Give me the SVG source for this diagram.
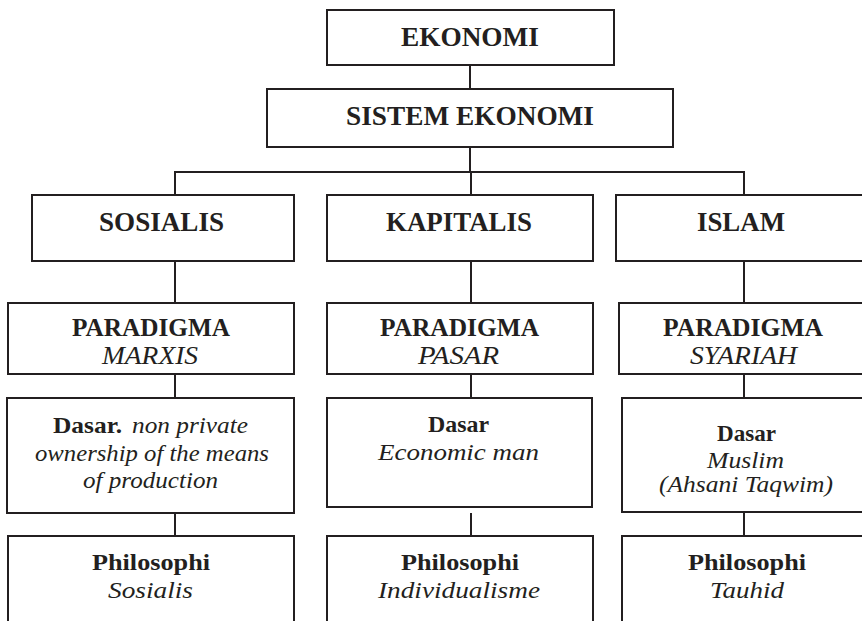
<svg xmlns="http://www.w3.org/2000/svg" width="862" height="621" viewBox="0 0 862 621" font-family="'Liberation Serif', Tinos, 'Times New Roman', Times, serif">
<style>
.box{fill:#fff;stroke:#231f20;stroke-width:2}
.con line{stroke:#231f20;stroke-width:2}
text{fill:#231f20;text-anchor:middle}
.h{font-weight:bold;font-size:27px}
.p{font-weight:bold;font-size:25px}
.pi{font-style:italic;font-size:25px}
.b{font-weight:bold;font-size:23px}
.i{font-style:italic;font-size:23px}
</style>
<rect width="862" height="621" fill="#fff"/>
<g id="connectors" class="con">
<line x1="470" y1="65" x2="470" y2="89"/>
<line x1="470" y1="147" x2="470" y2="172"/>
<line x1="174" y1="172" x2="745" y2="172"/>
<line x1="175" y1="172" x2="175" y2="195"/>
<line x1="471" y1="172" x2="471" y2="195"/>
<line x1="744" y1="172" x2="744" y2="195"/>
<line x1="175" y1="261" x2="175" y2="303"/>
<line x1="471" y1="261" x2="471" y2="303"/>
<line x1="744" y1="261" x2="744" y2="303"/>
<line x1="175" y1="374" x2="175" y2="398"/>
<line x1="471" y1="374" x2="471" y2="398"/>
<line x1="744" y1="374" x2="744" y2="398"/>
<line x1="175" y1="513" x2="175" y2="536"/>
<line x1="471" y1="513" x2="471" y2="536"/>
<line x1="744" y1="512" x2="744" y2="536"/>
</g>
<g id="ekonomi">
<rect class="box" x="327" y="10" width="287" height="55"/>
<text class="h" x="470" y="46" textLength="138" lengthAdjust="spacingAndGlyphs">EKONOMI</text>
</g>
<g id="sistem">
<rect class="box" x="267" y="89" width="406" height="58"/>
<text class="h" x="470" y="125" textLength="248" lengthAdjust="spacingAndGlyphs">SISTEM EKONOMI</text>
</g>
<g id="sosialis">
<rect class="box" x="32" y="195" width="262" height="66"/>
<text class="h" x="161.5" y="231" textLength="125" lengthAdjust="spacingAndGlyphs">SOSIALIS</text>
</g>
<g id="kapitalis">
<rect class="box" x="327" y="195" width="266" height="66"/>
<text class="h" x="459" y="231" textLength="146" lengthAdjust="spacingAndGlyphs">KAPITALIS</text>
</g>
<g id="islam">
<rect class="box" x="616" y="195" width="260" height="66"/>
<text class="h" x="741" y="231" textLength="88" lengthAdjust="spacingAndGlyphs">ISLAM</text>
</g>
<g id="paradigma-marxis">
<rect class="box" x="8" y="303" width="286" height="71"/>
<text class="p" x="151" y="336" textLength="158" lengthAdjust="spacingAndGlyphs">PARADIGMA</text>
<text class="pi" x="150" y="364" textLength="96" lengthAdjust="spacingAndGlyphs">MARXIS</text>
</g>
<g id="paradigma-pasar">
<rect class="box" x="327" y="303" width="266" height="71"/>
<text class="p" x="459.5" y="336" textLength="159" lengthAdjust="spacingAndGlyphs">PARADIGMA</text>
<text class="pi" x="458.5" y="364" textLength="81" lengthAdjust="spacingAndGlyphs">PASAR</text>
</g>
<g id="paradigma-syariah">
<rect class="box" x="619" y="303" width="257" height="71"/>
<text class="p" x="743" y="336" textLength="160" lengthAdjust="spacingAndGlyphs">PARADIGMA</text>
<text class="pi" x="743.5" y="364" textLength="107" lengthAdjust="spacingAndGlyphs">SYARIAH</text>
</g>
<g id="dasar-sosialis">
<rect class="box" x="7" y="398" width="287" height="115"/>
<text class="b" x="53" y="433" style="text-anchor:start" textLength="69" lengthAdjust="spacingAndGlyphs">Dasar.</text>
<text class="i" x="132" y="433" style="text-anchor:start" textLength="116" lengthAdjust="spacingAndGlyphs">non private</text>
<text class="i" x="152" y="461" textLength="234" lengthAdjust="spacingAndGlyphs">ownership of the means</text>
<text class="i" x="150.5" y="488" textLength="135" lengthAdjust="spacingAndGlyphs">of production</text>
</g>
<g id="dasar-kapitalis">
<rect class="box" x="327" y="398" width="265" height="109"/>
<text class="b" x="458.5" y="432" textLength="61" lengthAdjust="spacingAndGlyphs">Dasar</text>
<text class="i" x="458.5" y="460" textLength="161" lengthAdjust="spacingAndGlyphs">Economic  man</text>
</g>
<g id="dasar-islam">
<rect class="box" x="622" y="398" width="254" height="114"/>
<text class="b" x="746.5" y="441" textLength="59" lengthAdjust="spacingAndGlyphs">Dasar</text>
<text class="i" x="745.5" y="468" textLength="77" lengthAdjust="spacingAndGlyphs">Muslim</text>
<text class="i" x="746" y="492" textLength="174" lengthAdjust="spacingAndGlyphs">(Ahsani Taqwim)</text>
</g>
<g id="philosophi-sosialis">
<rect class="box" x="8" y="536" width="286" height="110"/>
<text class="b" x="151" y="570" textLength="118" lengthAdjust="spacingAndGlyphs">Philosophi</text>
<text class="i" x="150.5" y="598" textLength="85" lengthAdjust="spacingAndGlyphs">Sosialis</text>
</g>
<g id="philosophi-kapitalis">
<rect class="box" x="327" y="536" width="266" height="110"/>
<text class="b" x="460" y="570" textLength="118" lengthAdjust="spacingAndGlyphs">Philosophi</text>
<text class="i" x="459" y="598" textLength="162" lengthAdjust="spacingAndGlyphs">Individualisme</text>
</g>
<g id="philosophi-islam">
<rect class="box" x="622" y="536" width="254" height="110"/>
<text class="b" x="747" y="570" textLength="118" lengthAdjust="spacingAndGlyphs">Philosophi</text>
<text class="i" x="747" y="598" textLength="74" lengthAdjust="spacingAndGlyphs">Tauhid</text>
</g>
</svg>
